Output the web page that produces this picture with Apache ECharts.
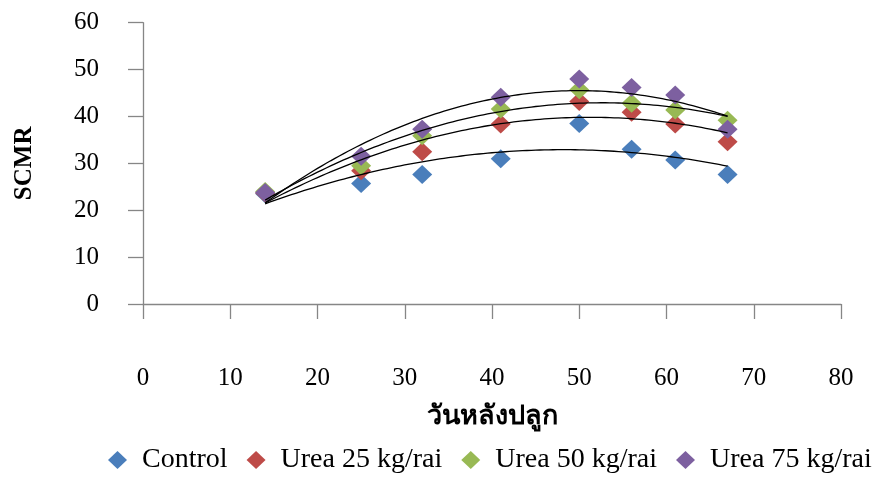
<!DOCTYPE html>
<html>
<head>
<meta charset="utf-8">
<script src="https://cdn.jsdelivr.net/npm/echarts@6/dist/echarts.min.js"></script>
<style>html,body{margin:0;padding:0;background:#fff}#c{width:877px;height:480px}</style>
</head>
<body>
<div id="c"></div>
<script>
const days = [14, 25, 32, 41, 50, 56, 61, 67];
const control = [23.5, 25.7, 27.6, 31.0, 38.5, 33.0, 30.7, 27.6];
const urea25 = [23.7, 28.4, 32.5, 38.4, 43.2, 40.9, 38.4, 34.6];
const urea50 = [24.0, 29.5, 35.9, 41.6, 45.7, 42.8, 41.4, 39.2];
const urea75 = [23.8, 31.5, 37.3, 44.1, 48.0, 46.2, 44.6, 37.3];
const seriesNames = ['Control', 'Urea 25 kg/rai', 'Urea 50 kg/rai', 'Urea 75 kg/rai'];
const colors = ['#4A7EBB', '#BE4B48', '#98B954', '#7D60A0'];
const xTitle = 'วันหลังปลูก';
const yTitle = 'SCMR';

// quadratic least squares trendline (like Excel polynomial trendline, order 2)
function quadFit(xs, ys) {
  let S = [0,0,0,0,0], T = [0,0,0];
  for (let i = 0; i < xs.length; i++) {
    let p = 1;
    for (let k = 0; k < 5; k++) { S[k] += p; if (k < 3) T[k] += p * ys[i]; p *= xs[i]; }
  }
  const A = [[S[0],S[1],S[2],T[0]],[S[1],S[2],S[3],T[1]],[S[2],S[3],S[4],T[2]]];
  for (let c = 0; c < 3; c++) {
    for (let r = c + 1; r < 3; r++) {
      const f = A[r][c] / A[c][c];
      for (let k = c; k < 4; k++) A[r][k] -= f * A[c][k];
    }
  }
  const b = [0,0,0];
  for (let r = 2; r >= 0; r--) {
    let s = A[r][3];
    for (let k = r + 1; k < 3; k++) s -= A[r][k] * b[k];
    b[r] = s / A[r][r];
  }
  return b;
}
function trend(ys) {
  const b = quadFit(days, ys);
  const pts = [];
  const x0 = days[0], x1 = days[days.length - 1];
  for (let x = x0; x <= x1 + 1e-9; x += 0.5) pts.push([x, b[0] + b[1] * x + b[2] * x * x]);
  return pts;
}

const allData = [control, urea25, urea50, urea75];
const series = [];
allData.forEach((ys, i) => {
  series.push({
    name: seriesNames[i], type: 'scatter', symbol: 'diamond', symbolSize: [20, 19],
    itemStyle: { color: colors[i], opacity: 1 }, z: 2,
    data: days.map((d, j) => [d, ys[j]])
  });
});
allData.forEach((ys) => {
  series.push({
    type: 'line', data: trend(ys), showSymbol: false, symbol: 'none', smooth: false,
    lineStyle: { color: '#000', width: 1.3 }, z: 3, silent: true
  });
});

const font = 'Liberation Serif, Times New Roman, serif';
const chart = echarts.init(document.getElementById('c'), null, { renderer: 'canvas' });
chart.setOption({
  animation: false,
  backgroundColor: '#fff',
  grid: { left: 143, right: 36, top: 22.7, bottom: 176, containLabel: false },
  xAxis: {
    type: 'value', min: 0, max: 80, interval: 10,
    name: xTitle, nameLocation: 'middle', nameGap: 100,
    nameTextStyle: { fontFamily: font, fontSize: 27, fontWeight: 'bold', color: '#000' },
    axisLine: { show: true, onZero: false, lineStyle: { color: '#868686', width: 1.3 } },
    axisTick: { show: true, length: 15, lineStyle: { color: '#868686', width: 1.3 } },
    axisLabel: { margin: 62, fontFamily: font, fontSize: 25, color: '#000' },
    splitLine: { show: false }
  },
  yAxis: {
    type: 'value', min: 0, max: 60, interval: 10,
    name: yTitle, nameLocation: 'middle', nameGap: 106,
    nameTextStyle: { fontFamily: font, fontSize: 25, fontWeight: 'bold', color: '#000' },
    axisLine: { show: true, lineStyle: { color: '#868686', width: 1.3 } },
    axisTick: { show: true, length: 15, lineStyle: { color: '#868686', width: 1.3 } },
    axisLabel: { margin: 44, fontFamily: font, fontSize: 25, color: '#000' },
    splitLine: { show: false }
  },
  legend: {
    data: seriesNames, left: 103, top: 441, width: 800, itemGap: 19, itemWidth: 19, itemHeight: 18,
    icon: 'diamond', orient: 'horizontal',
    itemStyle: { opacity: 1 },
    textStyle: { fontFamily: font, fontSize: 28, color: '#000', padding: [0, 0, 0, 10] }
  },
  series: series
});
</script>
</body>
</html>
